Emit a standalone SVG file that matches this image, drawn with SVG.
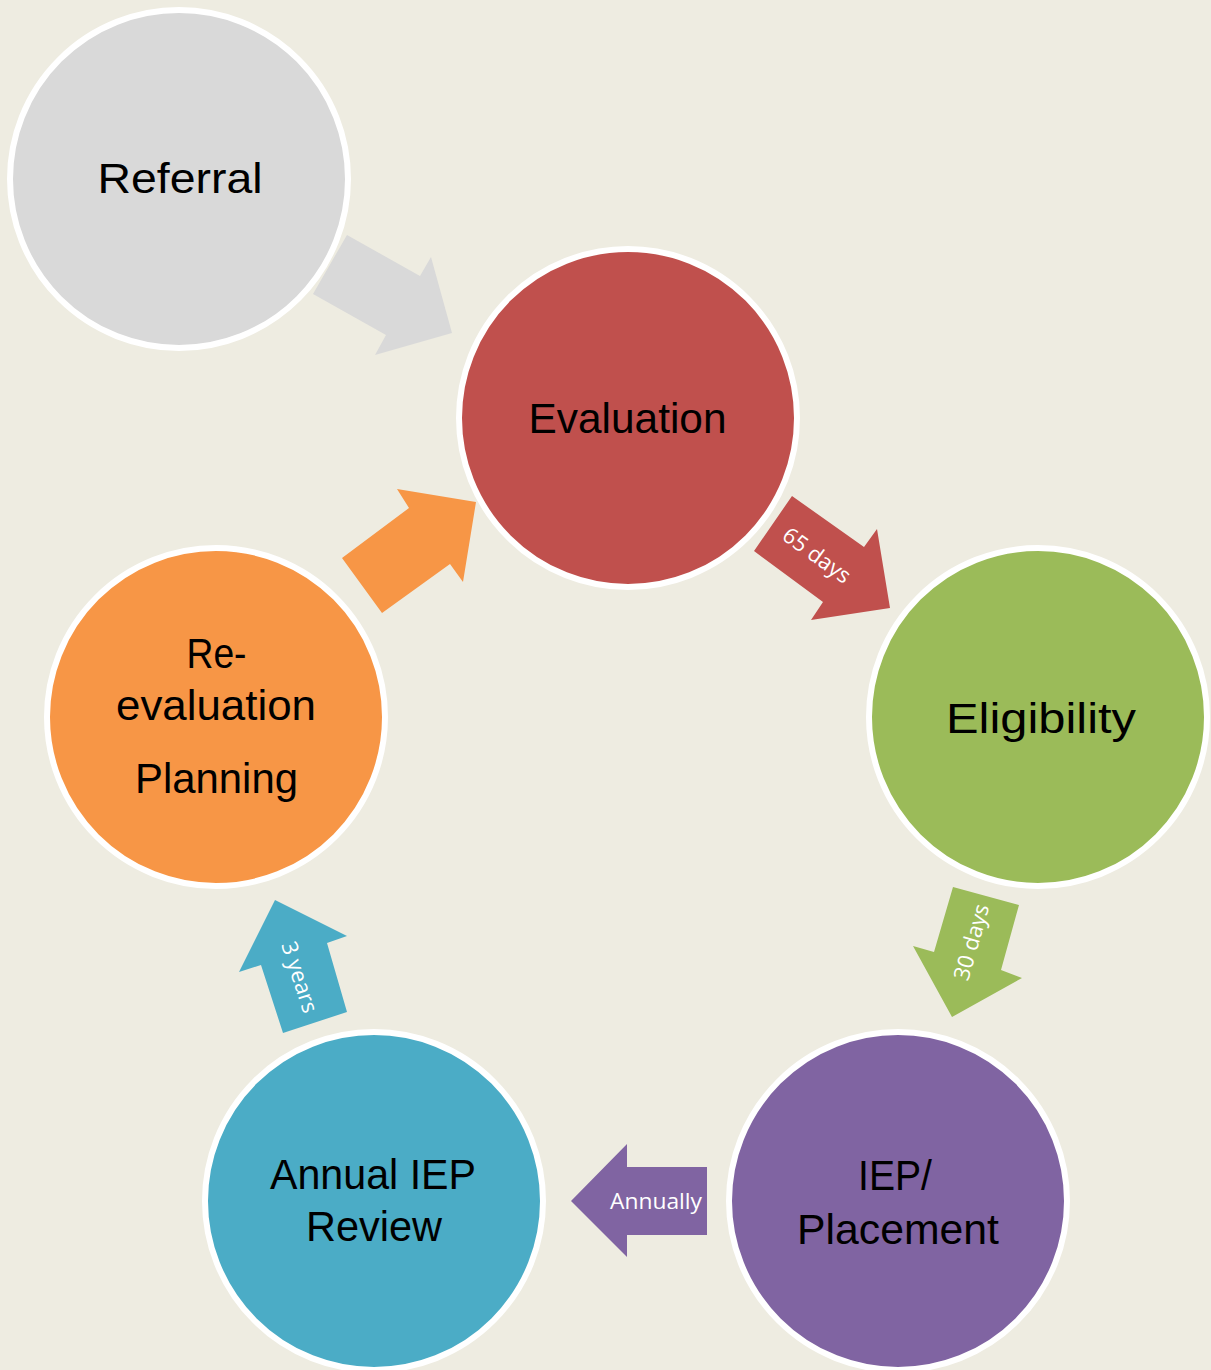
<svg xmlns="http://www.w3.org/2000/svg" width="1211" height="1370" viewBox="0 0 1211 1370">
<style>
.node circle{stroke:#ffffff;stroke-width:6}
.lbl{font-family:"Liberation Sans","Open Sans",sans-serif;font-size:43px;fill:#000000;text-anchor:middle}
.small{font-family:"Open Sans","Noto Sans","Liberation Sans",sans-serif;font-size:22px;fill:#ffffff;text-anchor:middle}
</style>
<rect x="0" y="0" width="1211" height="1370" fill="#eeece1"/>
<g id="connectors">
<polygon id="arrow-referral" fill="#d9d9d9" points="347,235 420,276 431,257 452,333 375,355 386,335 313,294"/>
<g id="arrow-65">
<polygon fill="#c0504d" points="792,496 864,547 877,529 890,608 811,620 823,602 754,551"/>
<text class="small" x="817" y="563" transform="rotate(36 817 555)">65 days</text>
</g>
<g id="arrow-30">
<polygon fill="#9bbb59" points="953,887 1019,905 1001,970 1022,978 952,1017 913,946 934,952"/>
<text class="small" x="971" y="950" transform="rotate(-74 971 942)">30 days</text>
</g>
<g id="arrow-annually">
<polygon fill="#8064a2" points="571,1201 627,1144 627,1167 707,1167 707,1235 627,1235 627,1257"/>
<text class="small" x="656" y="1209" textLength="92" lengthAdjust="spacingAndGlyphs">Annually</text>
</g>
<g id="arrow-3years">
<polygon fill="#4bacc6" points="275,900 347,936 327,943 347,1012 283,1033 261,965 239,972"/>
<text class="small" x="300" y="985" transform="rotate(72 300 977)">3 years</text>
</g>
<polygon id="arrow-reeval" fill="#f79646" points="342,558 409,508 397,489 476,502 463,582 450,564 382,613"/>
</g>
<g id="node-referral" class="node">
<circle cx="179" cy="179" r="169" fill="#d9d9d9"/>
<text class="lbl" x="180" y="193" textLength="165" lengthAdjust="spacingAndGlyphs">Referral</text>
</g>
<g id="node-evaluation" class="node">
<circle cx="628" cy="418" r="169" fill="#c0504d"/>
<text class="lbl" x="627.5" y="432.5" textLength="198" lengthAdjust="spacingAndGlyphs">Evaluation</text>
</g>
<g id="node-eligibility" class="node">
<circle cx="1038" cy="717" r="169" fill="#9bbb59"/>
<text class="lbl" x="1041" y="732.5" textLength="190" lengthAdjust="spacingAndGlyphs">Eligibility</text>
</g>
<g id="node-iep" class="node">
<circle cx="898" cy="1201" r="169" fill="#8064a2"/>
<text class="lbl" x="895" y="1190" textLength="74" lengthAdjust="spacingAndGlyphs">IEP/</text>
<text class="lbl" x="898" y="1244" textLength="202" lengthAdjust="spacingAndGlyphs">Placement</text>
</g>
<g id="node-annual" class="node">
<circle cx="374" cy="1201" r="169" fill="#4bacc6"/>
<text class="lbl" x="373" y="1189" textLength="206" lengthAdjust="spacingAndGlyphs">Annual IEP</text>
<text class="lbl" x="374" y="1240.5" textLength="136" lengthAdjust="spacingAndGlyphs">Review</text>
</g>
<g id="node-reeval" class="node">
<circle cx="216" cy="717" r="169" fill="#f79646"/>
<text class="lbl" x="216.5" y="668" textLength="60" lengthAdjust="spacingAndGlyphs">Re-</text>
<text class="lbl" x="216" y="720" textLength="200" lengthAdjust="spacingAndGlyphs">evaluation</text>
<text class="lbl" x="216.5" y="793" textLength="163" lengthAdjust="spacingAndGlyphs">Planning</text>
</g>
</svg>
